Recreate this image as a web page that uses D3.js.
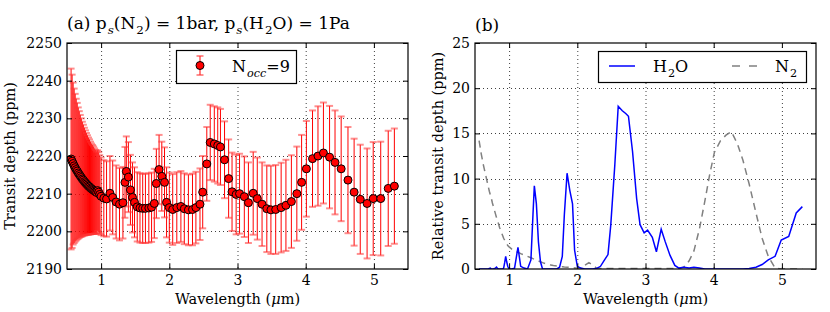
<!DOCTYPE html>
<html><head><meta charset="utf-8">
<script src="https://cdn.jsdelivr.net/npm/d3@7"></script>
<style>body{margin:0;background:#fff} svg{display:block} text{font-family:"DejaVu Serif",serif;fill:#000}</style>
</head><body><svg id="c" width="830" height="312"></svg>
<script>
// ---- data ----
const wavelength = [0.56,0.575,0.59,0.605,0.62,0.635,0.65,0.665,0.68,0.695,0.71,0.725,0.74,0.755,0.77,0.785,0.80,0.815,0.83,0.845,0.86,0.875,0.89,0.905,0.92,0.935,0.95,0.965,0.98,1.00,1.04,1.08,1.13,1.17,1.22,1.27,1.32,1.35,1.37,1.40,1.43,1.46,1.49,1.53,1.57,1.61,1.65,1.70,1.74,1.78,1.81,1.85,1.89,1.93,1.96,2.00,2.05,2.11,2.17,2.22,2.28,2.34,2.39,2.45,2.49,2.55,2.60,2.66,2.71,2.75,2.81,2.87,2.92,2.98,3.03,3.10,3.16,3.23,3.29,3.36,3.43,3.49,3.56,3.64,3.71,3.79,3.87,3.94,4.01,4.10,4.18,4.26,4.35,4.43,4.52,4.62,4.71,4.80,4.90,4.99,5.10,5.21,5.30];
const transitDepth = [2219.2,2218.6,2218.0,2217.4,2216.9,2216.4,2216.0,2215.5,2215.1,2214.7,2214.3,2213.9,2213.6,2213.2,2212.9,2212.6,2212.3,2212.0,2211.8,2211.5,2211.3,2211.1,2210.9,2210.7,2210.5,2210.3,2210.8,2210.4,2209.8,2209.3,2208.8,2208.6,2210.1,2209.0,2207.8,2207.2,2207.6,2213.0,2215.9,2214.4,2211.0,2209.0,2207.7,2206.5,2206.2,2206.1,2206.1,2206.2,2206.4,2207.4,2212.7,2216.4,2214.6,2213.0,2207.7,2206.3,2205.8,2206.3,2206.6,2206.0,2205.7,2205.8,2206.3,2207.2,2210.4,2217.9,2223.6,2223.2,2222.8,2222.4,2219.0,2214.0,2210.5,2209.8,2210.0,2209.2,2207.6,2210.1,2208.7,2207.2,2206.0,2205.7,2205.8,2206.3,2206.9,2207.9,2210.0,2213.0,2216.6,2219.3,2220.0,2220.8,2219.7,2218.3,2216.6,2213.6,2210.4,2208.5,2207.4,2208.7,2208.7,2211.4,2212.0];
const depthError = [24.0,23.0,21.5,20.5,19.6,18.8,18.1,17.4,16.8,16.2,15.7,15.2,14.7,14.3,13.9,13.5,13.2,12.9,12.6,12.3,12.0,11.8,11.6,11.3,11.1,10.9,10.7,10.6,10.4,10.3,10.1,10.0,9.9,9.8,9.7,9.6,9.5,9.4,9.3,9.3,9.3,9.3,9.3,9.2,9.2,9.2,9.2,9.2,9.2,9.2,9.2,9.2,9.2,9.3,9.3,9.3,9.4,9.4,9.4,9.4,9.4,9.5,9.5,9.5,9.6,9.8,10.0,10.0,10.1,10.1,10.2,10.4,10.4,10.6,10.6,10.7,10.7,11.0,10.9,11.1,11.5,11.7,11.8,11.9,12.1,12.3,12.5,12.6,12.7,12.8,13.2,13.4,13.6,13.8,13.9,14.1,14.2,14.5,14.6,15.0,15.1,15.3,15.3];
const relH2O = [0,0,0,0,0,0,0,0,0,0,0.05,0.1,0,0,0,0.05,0.1,0.2,0.05,0,0,0,0,0,0.1,0.7,1.4,0.8,0.3,0,0,0.1,2.4,0.3,0.1,0,1.0,6.0,9.2,7.2,3.0,0.8,0,0,0,0,0,0,0.2,1.4,6.0,10.6,8.7,7.2,2.1,0.3,0.1,0,0,0,0.05,0.3,0.9,1.6,4.8,11.5,18.0,17.5,17.2,16.9,13.0,7.8,4.9,4.0,4.3,3.5,1.9,4.4,3.0,1.5,0.4,0.1,0.2,0.1,0.2,0.1,0,0,0,0,0,0,0,0,0.05,0.2,0.5,1.0,1.4,3.2,3.6,6.2,6.9];
const relN2 = [14.2,13.5,12.8,12.2,11.6,11.1,10.6,10.1,9.6,9.1,8.6,8.2,7.8,7.3,6.9,6.5,6.1,5.7,5.3,5.0,4.6,4.3,4.0,3.7,3.4,3.2,2.95,2.8,2.6,2.45,2.2,2.0,1.85,1.7,1.55,1.4,1.25,1.15,1.1,1.0,0.9,0.8,0.7,0.6,0.5,0.44,0.38,0.33,0.29,0.26,0.23,0.2,0.17,0.15,0.12,0.1,0.15,0.4,0.7,0.45,0.1,0.05,0.05,0.05,0.05,0.05,0.05,0.05,0.05,0.05,0.05,0.05,0.05,0.05,0.05,0.05,0.05,0.05,0.05,0.05,0.05,0.05,0.2,0.9,2.0,4.4,7.5,10.4,12.9,14.2,14.8,15.2,13.8,12.0,9.4,6.2,3.4,1.4,0.1,0,0,0,0];
const xTickValues = [1,2,3,4,5];
const yTicksA = [2190,2200,2210,2220,2230,2240,2250];
const yTicksB = [0,5,10,15,20,25];

// ---- layout ----
const svg = d3.select('#c');
const A = {l:67, r:408, t:43, b:269};
const B = {l:475, r:816, t:43, b:269};
const xA = d3.scaleLinear().domain([0.5,5.5]).range([A.l,A.r]);
const yA = d3.scaleLinear().domain([2190,2250]).range([A.b,A.t]);
const xB = d3.scaleLinear().domain([0.5,5.5]).range([B.l,B.r]);
const yB = d3.scaleLinear().domain([0,25]).range([B.b,B.t]);
const FS = 14, LFS = 14.5, TFS = 17, GFS = 16;

function rich(sel, parts, fs){
  let cur = 0;
  for (const [s,type] of parts){
    const sub = type==='s' || type==='si';
    const target = sub ? fs*0.3 : 0;
    const t = sel.append('tspan').attr('dy', target-cur).text(s);
    cur = target;
    if (sub) t.attr('font-size', fs*0.7).attr('dx', 1);
    if (type==='si' || type==='i') t.attr('font-style','italic');
  }
}

function frame(box, x, y, yticks, id){
  const g = svg.append('g');
  g.append('rect').attr('x',box.l).attr('y',box.t).attr('width',box.r-box.l).attr('height',box.b-box.t).attr('fill','#fff');
  g.selectAll(null).data(xTickValues).join('line')
    .attr('x1',d=>x(d)+0.5).attr('x2',d=>x(d)+0.5).attr('y1',box.t).attr('y2',box.b)
    .attr('stroke','#000').attr('stroke-width',1).attr('stroke-dasharray','1,3').attr('opacity',0.75);
  g.selectAll(null).data(yticks.slice(1,-1)).join('line')
    .attr('y1',d=>Math.round(y(d))+0.5).attr('y2',d=>Math.round(y(d))+0.5).attr('x1',box.l).attr('x2',box.r)
    .attr('stroke','#000').attr('stroke-width',1).attr('stroke-dasharray','1,3').attr('opacity',0.75);
  svg.append('clipPath').attr('id',id).append('rect')
    .attr('x',box.l).attr('y',box.t).attr('width',box.r-box.l).attr('height',box.b-box.t);
}

function axes(box, x, y, yticks){
  const ax = svg.append('g');
  const b = ax.append('g').attr('transform',`translate(0,${box.b})`)
    .call(d3.axisBottom(x).tickValues(xTickValues).tickFormat(d3.format('d')).tickSize(-5).tickSizeOuter(0).tickPadding(6));
  const l = ax.append('g').attr('transform',`translate(${box.l},0)`)
    .call(d3.axisLeft(y).tickValues(yticks).tickFormat(d3.format('d')).tickSize(-5).tickSizeOuter(0).tickPadding(5));
  const t = ax.append('g').attr('transform',`translate(0,${box.t})`)
    .call(d3.axisTop(x).tickValues(xTickValues).tickFormat('').tickSize(-5).tickSizeOuter(0));
  const r = ax.append('g').attr('transform',`translate(${box.r},0)`)
    .call(d3.axisRight(y).tickValues(yticks).tickFormat('').tickSize(-5).tickSizeOuter(0));
  [b,l,t,r].forEach(s=>{ s.select('.domain').remove(); s.attr('font-family',null).attr('font-size',FS);
    s.selectAll('line').attr('stroke','#000'); s.selectAll('text').attr('fill','#000'); });
  ax.append('rect').attr('x',box.l).attr('y',box.t).attr('width',box.r-box.l).attr('height',box.b-box.t)
    .attr('fill','none').attr('stroke','#000').attr('stroke-width',1.2);
}

// ---- panel (a) ----
frame(A, xA, yA, yTicksA, 'clipA');
const data = wavelength.map((w,i)=>({w, v:transitDepth[i], e:depthError[i]}));
const gA = svg.append('g').attr('clip-path','url(#clipA)');
const eb = gA.append('g');
eb.selectAll(null).data(data).join('line')
  .attr('x1',d=>xA(d.w)).attr('x2',d=>xA(d.w)).attr('y1',d=>yA(d.v-d.e)).attr('y2',d=>yA(d.v+d.e))
  .attr('stroke','#ff0000').attr('stroke-width',1);
['lo','hi'].forEach(k=>{
  eb.selectAll(null).data(data).join('line')
    .attr('x1',d=>xA(d.w)-3.5).attr('x2',d=>xA(d.w)+3.5)
    .attr('y1',d=>yA(k==='lo'?d.v-d.e:d.v+d.e)).attr('y2',d=>yA(k==='lo'?d.v-d.e:d.v+d.e))
    .attr('stroke','#ff3333').attr('stroke-opacity',0.55).attr('stroke-width',2);
});
gA.append('g').selectAll(null).data(data).join('circle')
  .attr('cx',d=>xA(d.w)).attr('cy',d=>yA(d.v)).attr('r',4)
  .attr('fill','#ff0000').attr('stroke','#000').attr('stroke-width',1);
axes(A, xA, yA, yTicksA);

// legend (a)
const lgA = svg.append('g');
lgA.append('rect').attr('x',176.5).attr('y',50.5).attr('width',120).attr('height',33).attr('fill','#fff').attr('stroke','#000').attr('stroke-width',1.2);
lgA.append('line').attr('x1',200).attr('x2',200).attr('y1',56).attr('y2',75).attr('stroke','#ff0000');
[56,75].forEach(yy=>lgA.append('line').attr('x1',196.5).attr('x2',203.5).attr('y1',yy).attr('y2',yy).attr('stroke','#ff3333').attr('stroke-opacity',0.55).attr('stroke-width',2));
lgA.append('circle').attr('cx',200).attr('cy',65.5).attr('r',4).attr('fill','#ff0000').attr('stroke','#000');
rich(lgA.append('text').attr('x',232).attr('y',72).attr('font-size',GFS), [['N','n'],['occ','si'],['=9','n']], GFS);

// title (a)
rich(svg.append('text').attr('x',67).attr('y',29).attr('font-size',TFS),
  [['(a) p','n'],['s','si'],['(N','n'],['2','s'],[') = 1bar, p','n'],['s','si'],['(H','n'],['2','s'],['O) = 1Pa','n']], TFS);
rich(svg.append('text').attr('x',(A.l+A.r)/2).attr('y',304).attr('text-anchor','middle').attr('font-size',LFS),
  [['Wavelength (','n'],['μ','i'],['m)','n']], LFS);
svg.append('text').attr('transform',`translate(15,${(A.t+A.b)/2}) rotate(-90)`).attr('text-anchor','middle').attr('font-size',LFS).text('Transit depth (ppm)');

// ---- panel (b) ----
frame(B, xB, yB, yTicksB, 'clipB');
const gB = svg.append('g').attr('clip-path','url(#clipB)');
const lineB = d3.line().x((d,i)=>xB(wavelength[i])).y(d=>yB(d));
gB.append('path').attr('d', lineB(relN2)).attr('fill','none').attr('stroke','#808080').attr('stroke-width',1.5).attr('stroke-dasharray','7,5');
gB.append('path').attr('d', lineB(relH2O)).attr('fill','none').attr('stroke','#0000ff').attr('stroke-width',1.5);
axes(B, xB, yB, yTicksB);

const lgB = svg.append('g');
lgB.append('rect').attr('x',598.5).attr('y',51.5).attr('width',208).attr('height',31).attr('fill','#fff').attr('stroke','#000').attr('stroke-width',1.2);
lgB.append('line').attr('x1',609).attr('x2',635).attr('y1',66).attr('y2',66).attr('stroke','#0000ff').attr('stroke-width',1.5);
rich(lgB.append('text').attr('x',653).attr('y',72).attr('font-size',GFS), [['H','n'],['2','s'],['O','n']], GFS);
lgB.append('line').attr('x1',732).attr('x2',757).attr('y1',66).attr('y2',66).attr('stroke','#808080').attr('stroke-width',1.5).attr('stroke-dasharray','8,9');
rich(lgB.append('text').attr('x',775).attr('y',72).attr('font-size',GFS), [['N','n'],['2','s']], GFS);

svg.append('text').attr('x',475).attr('y',31).attr('font-size',TFS).text('(b)');
rich(svg.append('text').attr('x',(B.l+B.r)/2).attr('y',304).attr('text-anchor','middle').attr('font-size',LFS),
  [['Wavelength (','n'],['μ','i'],['m)','n']], LFS);
svg.append('text').attr('transform',`translate(443,${(B.t+B.b)/2}) rotate(-90)`).attr('text-anchor','middle').attr('font-size',LFS).text('Relative transit depth (ppm)');
</script></body></html>
